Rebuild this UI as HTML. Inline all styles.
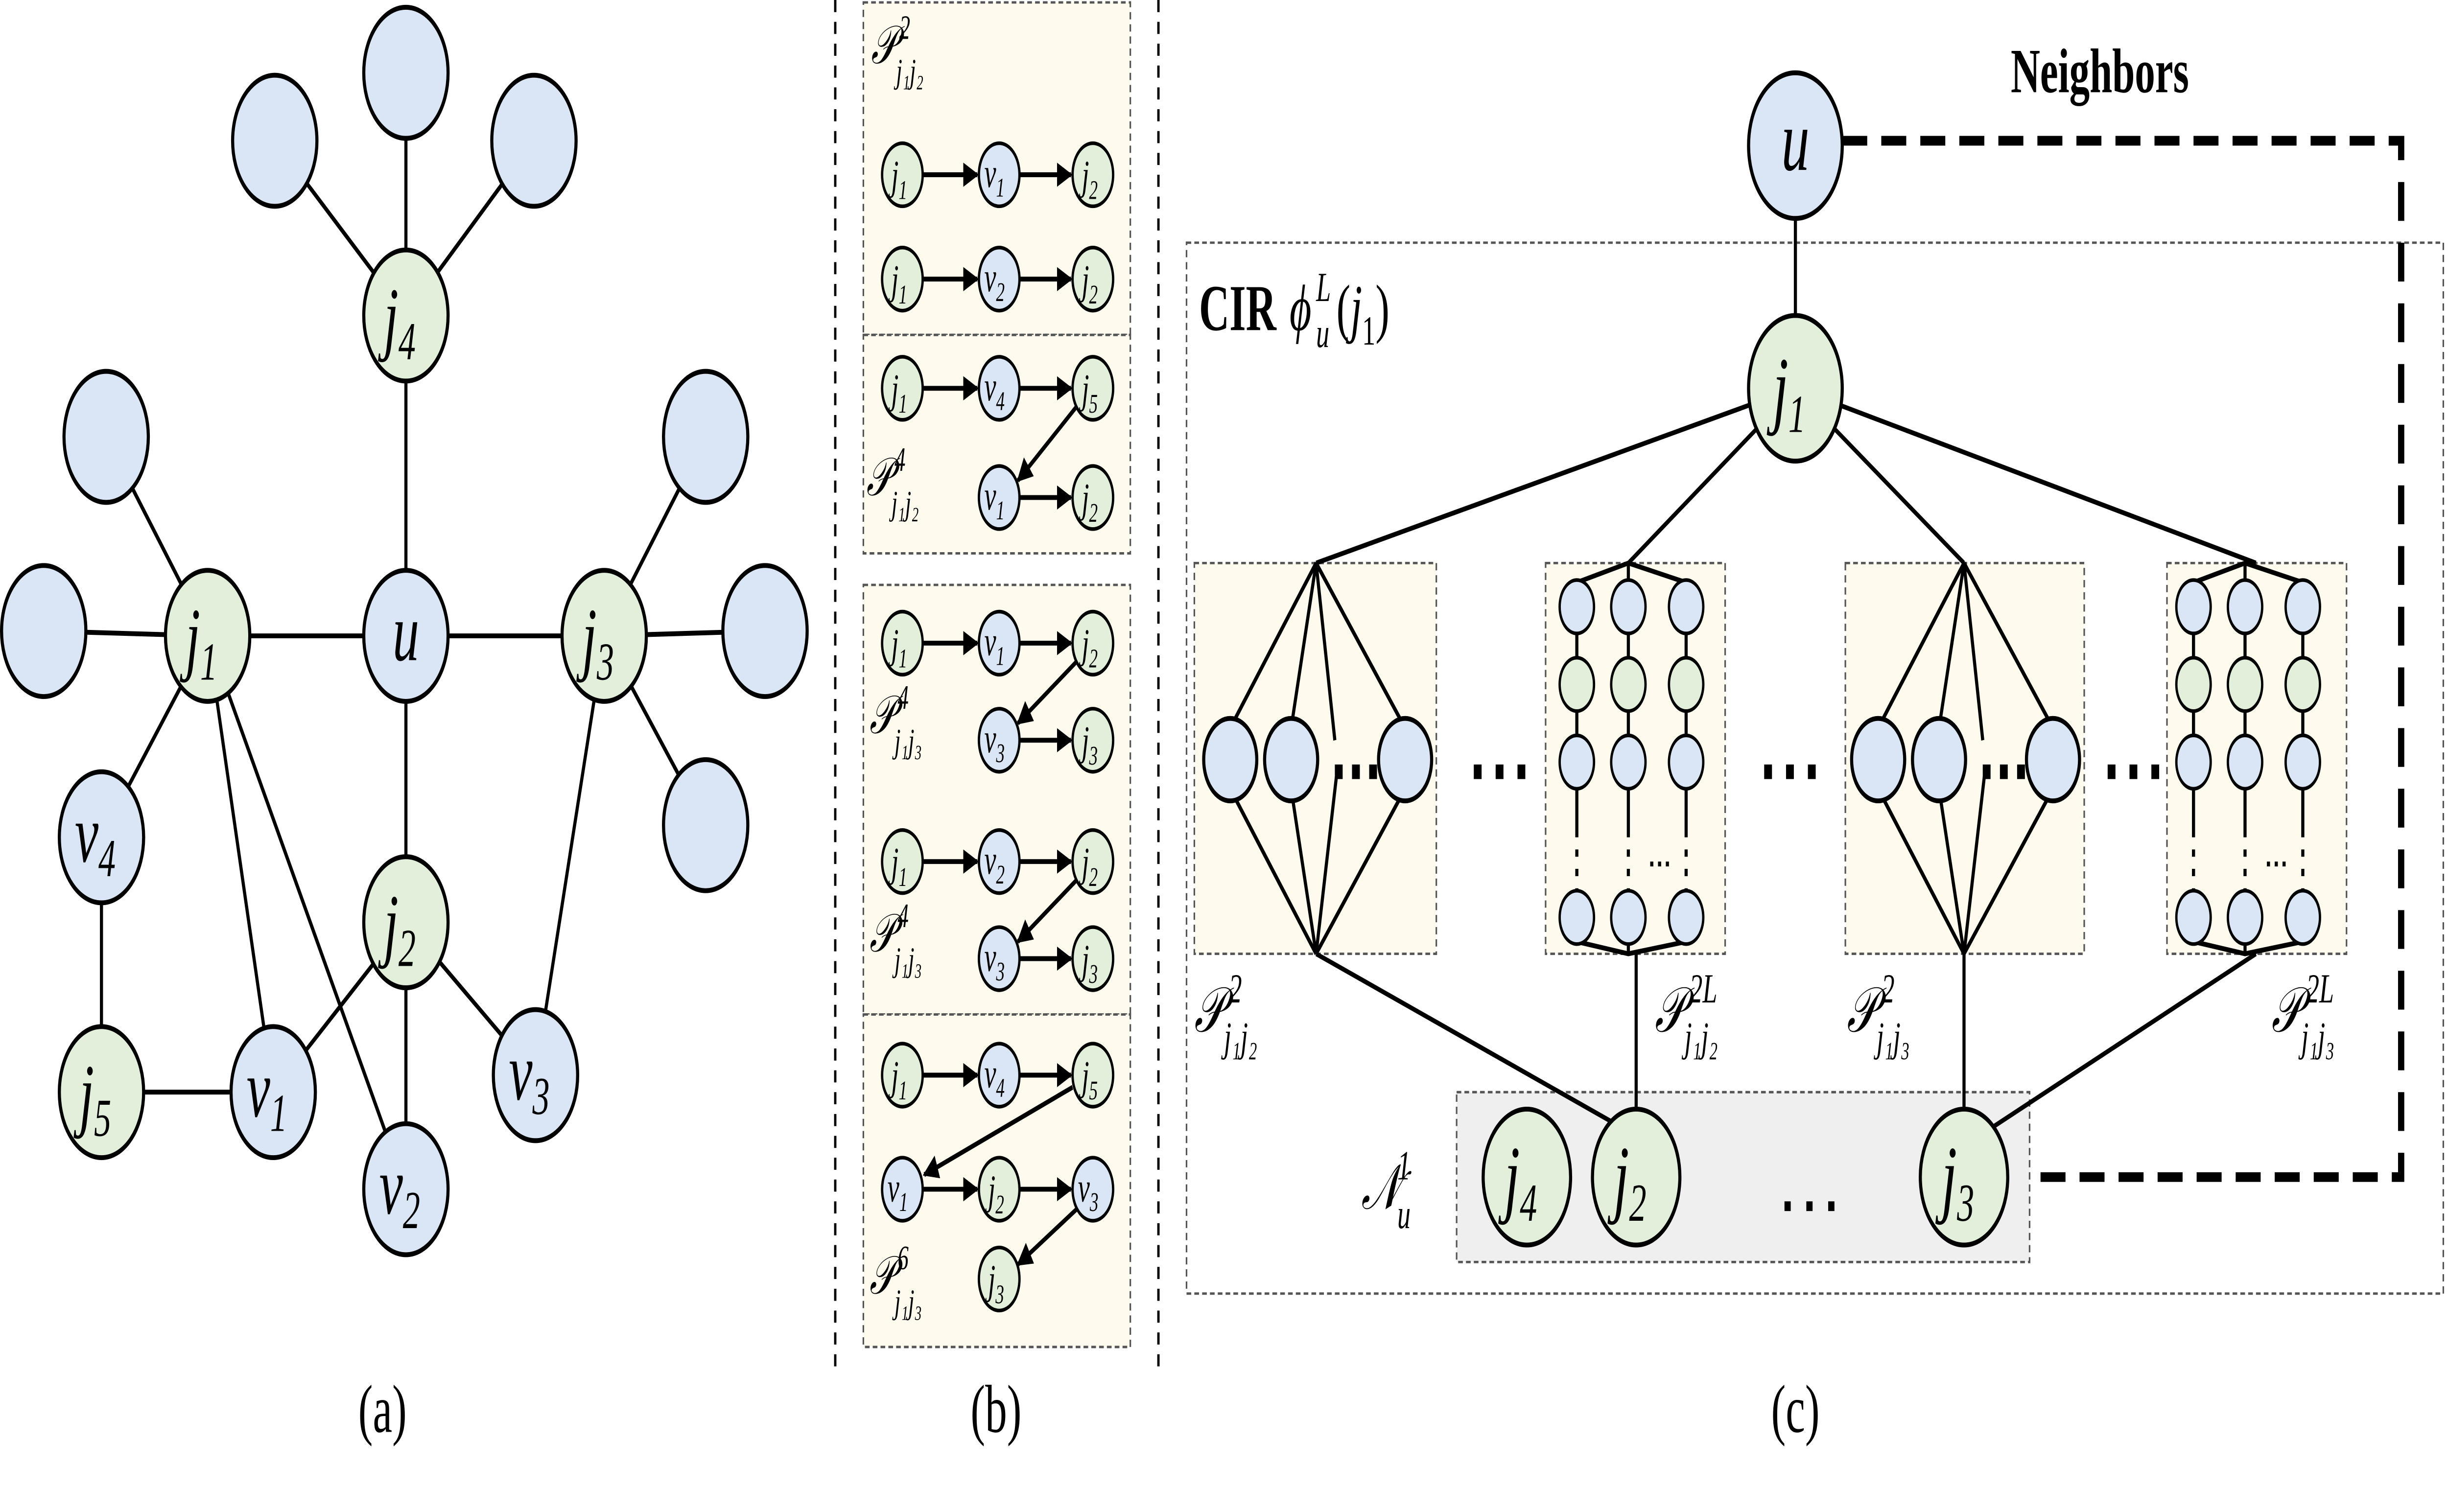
<!DOCTYPE html>
<html><head><meta charset="utf-8"><style>html,body{margin:0;padding:0;background:#fff;overflow:hidden;width:100%;height:100%}svg{display:block;width:100vw;height:100vh}</style></head>
<body>
<svg xmlns="http://www.w3.org/2000/svg" viewBox="0 0 1568 623" preserveAspectRatio="none" font-family="Liberation Serif, serif">
<defs>
<marker id="ar" viewBox="0 0 10 10" refX="9" refY="5" markerWidth="5" markerHeight="5" orient="auto"><path d="M0,0 L10,5 L0,10 z" fill="#000"/></marker>
</defs>
<rect width="1568" height="623" fill="#fff"/>
<!-- (a) -->
<g stroke="#000" stroke-width="2">
<line x1="176" y1="58" x2="260" y2="130"/><line x1="260" y1="30" x2="260" y2="130"/><line x1="342" y1="58" x2="260" y2="130"/>
<line x1="260" y1="130" x2="260" y2="262"/><line x1="68" y1="180" x2="133" y2="262"/><line x1="28" y1="260" x2="133" y2="262"/>
<line x1="133" y1="262" x2="260" y2="262"/><line x1="260" y1="262" x2="387" y2="262"/><line x1="260" y1="262" x2="260" y2="380"/>
<line x1="387" y1="262" x2="452" y2="180"/><line x1="387" y1="262" x2="490" y2="260"/><line x1="387" y1="262" x2="452" y2="340"/>
<line x1="387" y1="262" x2="343" y2="443"/><line x1="260" y1="380" x2="343" y2="443"/><line x1="260" y1="380" x2="260" y2="490"/>
<line x1="260" y1="380" x2="175" y2="450"/><line x1="133" y1="262" x2="65" y2="345"/><line x1="133" y1="262" x2="175" y2="450"/>
<line x1="133" y1="262" x2="260" y2="490"/><line x1="65" y1="345" x2="65" y2="450"/><line x1="65" y1="450" x2="175" y2="450"/>
</g>
<g stroke="#000" stroke-width="2" fill="#dae6f5">
<circle cx="176" cy="58" r="27"/><circle cx="260" cy="30" r="27"/><circle cx="342" cy="58" r="27"/>
<circle cx="68" cy="180" r="27"/><circle cx="28" cy="260" r="27"/><circle cx="260" cy="262" r="27"/>
<circle cx="452" cy="180" r="27"/><circle cx="490" cy="260" r="27"/><circle cx="452" cy="340" r="27"/>
<circle cx="65" cy="345" r="27"/><circle cx="175" cy="450" r="27"/><circle cx="260" cy="490" r="27"/><circle cx="343" cy="443" r="27"/>
</g>
<g stroke="#000" stroke-width="2" fill="#e2efda">
<circle cx="260" cy="130" r="27"/><circle cx="133" cy="262" r="27"/><circle cx="387" cy="262" r="27"/>
<circle cx="260" cy="380" r="27"/><circle cx="65" cy="450" r="27"/>
</g>
<g font-size="34" font-style="italic" text-anchor="middle">
<text x="256" y="142">j<tspan font-size="22" dy="6">4</tspan></text>
<text x="129" y="274">j<tspan font-size="22" dy="6">1</tspan></text>
<text x="260" y="272">u</text>
<text x="383" y="274">j<tspan font-size="22" dy="6">3</tspan></text>
<text x="256" y="392">j<tspan font-size="22" dy="6">2</tspan></text>
<text x="61" y="462">j<tspan font-size="22" dy="6">5</tspan></text>
<text x="61" y="355">v<tspan font-size="22" dy="6">4</tspan></text>
<text x="171" y="460">v<tspan font-size="22" dy="6">1</tspan></text>
<text x="256" y="500">v<tspan font-size="22" dy="6">2</tspan></text>
<text x="339" y="453">v<tspan font-size="22" dy="6">3</tspan></text>
</g>
<text x="245" y="590" font-size="28" text-anchor="middle">(a)</text>
<!-- (b) -->
<g stroke="#000" stroke-width="1.5" stroke-dasharray="5,4"><line x1="535" y1="0" x2="535" y2="565"/><line x1="742" y1="0" x2="742" y2="565"/></g>
<g fill="#fefaee" stroke="#555" stroke-width="1" stroke-dasharray="3,2">
<rect x="553" y="1" width="171" height="137"/><rect x="553" y="138" width="171" height="90"/>
<rect x="553" y="241" width="171" height="177"/><rect x="553" y="418" width="171" height="137"/>
</g>
<g stroke="#000" stroke-width="2" marker-end="url(#ar)">
<line x1="591" y1="72" x2="626" y2="72"/><line x1="653" y1="72" x2="686" y2="72"/>
<line x1="591" y1="115" x2="626" y2="115"/><line x1="653" y1="115" x2="686" y2="115"/>
<line x1="591" y1="160" x2="626" y2="160"/><line x1="653" y1="160" x2="686" y2="160"/>
<line x1="689" y1="168" x2="652" y2="198"/><line x1="653" y1="205" x2="686" y2="205"/>
<line x1="591" y1="265" x2="626" y2="265"/><line x1="653" y1="265" x2="686" y2="265"/>
<line x1="689" y1="273" x2="652" y2="298"/><line x1="653" y1="305" x2="686" y2="305"/>
<line x1="591" y1="355" x2="626" y2="355"/><line x1="653" y1="355" x2="686" y2="355"/>
<line x1="689" y1="363" x2="652" y2="388"/><line x1="653" y1="395" x2="686" y2="395"/>
<line x1="591" y1="443" x2="626" y2="443"/><line x1="653" y1="443" x2="686" y2="443"/>
<line x1="687" y1="448" x2="592" y2="484"/><line x1="591" y1="490" x2="626" y2="490"/><line x1="653" y1="490" x2="686" y2="490"/>
<line x1="690" y1="498" x2="652" y2="521"/>
</g>
<g stroke="#000" stroke-width="1.5">
<g fill="#e2efda"><circle cx="578" cy="72" r="13"/><circle cx="700" cy="72" r="13"/><circle cx="578" cy="115" r="13"/><circle cx="700" cy="115" r="13"/>
<circle cx="578" cy="160" r="13"/><circle cx="700" cy="160" r="13"/><circle cx="700" cy="205" r="13"/>
<circle cx="578" cy="265" r="13"/><circle cx="700" cy="265" r="13"/><circle cx="700" cy="305" r="13"/>
<circle cx="578" cy="355" r="13"/><circle cx="700" cy="355" r="13"/><circle cx="700" cy="395" r="13"/>
<circle cx="578" cy="443" r="13"/><circle cx="700" cy="443" r="13"/><circle cx="640" cy="490" r="13"/><circle cx="640" cy="527" r="13"/></g>
<g fill="#dae6f5"><circle cx="640" cy="72" r="13"/><circle cx="640" cy="115" r="13"/><circle cx="640" cy="160" r="13"/><circle cx="640" cy="205" r="13"/>
<circle cx="640" cy="265" r="13"/><circle cx="640" cy="305" r="13"/><circle cx="640" cy="355" r="13"/><circle cx="640" cy="395" r="13"/>
<circle cx="640" cy="443" r="13"/><circle cx="578" cy="490" r="13"/><circle cx="700" cy="490" r="13"/></g>
</g>
<g font-size="17" font-style="italic" text-anchor="middle">
<text x="576" y="78">j<tspan font-size="11" dy="4">1</tspan></text><text x="637" y="77">v<tspan font-size="11" dy="4">1</tspan></text><text x="698" y="78">j<tspan font-size="11" dy="4">2</tspan></text>
<text x="576" y="121">j<tspan font-size="11" dy="4">1</tspan></text><text x="637" y="120">v<tspan font-size="11" dy="4">2</tspan></text><text x="698" y="121">j<tspan font-size="11" dy="4">2</tspan></text>
<text x="576" y="166">j<tspan font-size="11" dy="4">1</tspan></text><text x="637" y="165">v<tspan font-size="11" dy="4">4</tspan></text><text x="698" y="166">j<tspan font-size="11" dy="4">5</tspan></text>
<text x="637" y="210">v<tspan font-size="11" dy="4">1</tspan></text><text x="698" y="211">j<tspan font-size="11" dy="4">2</tspan></text>
<text x="576" y="271">j<tspan font-size="11" dy="4">1</tspan></text><text x="637" y="270">v<tspan font-size="11" dy="4">1</tspan></text><text x="698" y="271">j<tspan font-size="11" dy="4">2</tspan></text>
<text x="637" y="310">v<tspan font-size="11" dy="4">3</tspan></text><text x="698" y="311">j<tspan font-size="11" dy="4">3</tspan></text>
<text x="576" y="361">j<tspan font-size="11" dy="4">1</tspan></text><text x="637" y="360">v<tspan font-size="11" dy="4">2</tspan></text><text x="698" y="361">j<tspan font-size="11" dy="4">2</tspan></text>
<text x="637" y="400">v<tspan font-size="11" dy="4">3</tspan></text><text x="698" y="401">j<tspan font-size="11" dy="4">3</tspan></text>
<text x="576" y="449">j<tspan font-size="11" dy="4">1</tspan></text><text x="637" y="448">v<tspan font-size="11" dy="4">4</tspan></text><text x="698" y="449">j<tspan font-size="11" dy="4">5</tspan></text>
<text x="575" y="495">v<tspan font-size="11" dy="4">1</tspan></text><text x="638" y="496">j<tspan font-size="11" dy="4">2</tspan></text><text x="697" y="495">v<tspan font-size="11" dy="4">3</tspan></text>
<text x="638" y="533">j<tspan font-size="11" dy="4">3</tspan></text>
</g>
<g font-style="italic">
<text x="558" y="26" font-size="22">𝒫</text><text x="576" y="16" font-size="14">2</text><text x="574" y="34" font-size="14">j₁j₂</text>
<text x="555" y="204" font-size="22">𝒫</text><text x="573" y="194" font-size="14">4</text><text x="571" y="212" font-size="14">j₁j₂</text>
<text x="557" y="302" font-size="22">𝒫</text><text x="575" y="292" font-size="14">4</text><text x="573" y="310" font-size="14">j₁j₃</text>
<text x="557" y="392" font-size="22">𝒫</text><text x="575" y="382" font-size="14">4</text><text x="573" y="400" font-size="14">j₁j₃</text>
<text x="557" y="533" font-size="22">𝒫</text><text x="575" y="523" font-size="14">6</text><text x="573" y="541" font-size="14">j₁j₃</text>
</g>
<text x="638" y="590" font-size="28" text-anchor="middle">(b)</text>
<!-- (c) -->
<rect x="760" y="100" width="805" height="433" fill="none" stroke="#555" stroke-width="1" stroke-dasharray="3,2"/>
<path d="M1180,58 H1538 V485 H1285" fill="none" stroke="#000" stroke-width="4" stroke-dasharray="16,9"/>
<text x="1345" y="38" font-size="26" font-weight="bold" text-anchor="middle">Neighbors</text>
<text x="768" y="136" font-size="27" font-weight="bold">CIR</text>
<text x="826" y="136" font-size="27" font-style="italic">ϕ</text>
<text x="843" y="124" font-size="17" font-style="italic">L</text>
<text x="843" y="143" font-size="17" font-style="italic">u</text>
<text x="856" y="136" font-size="27">(<tspan font-style="italic">j</tspan><tspan font-size="17" dy="6">1</tspan><tspan dy="-6">)</tspan></text>
<g fill="#fefaee" stroke="#555" stroke-width="1" stroke-dasharray="3,2">
<rect x="765" y="232" width="155" height="161"/><rect x="990" y="232" width="115" height="161"/>
<rect x="1182" y="232" width="153" height="161"/><rect x="1388" y="232" width="115" height="161"/>
</g>
<rect x="933" y="450" width="367" height="70" fill="#efefef" stroke="#555" stroke-width="1" stroke-dasharray="3,2"/>
<g stroke="#000" stroke-width="2" fill="none">
<line x1="1150" y1="60" x2="1150" y2="160"/>
<line x1="1150" y1="160" x2="843" y2="232"/><line x1="1150" y1="160" x2="1043" y2="232"/>
<line x1="1150" y1="160" x2="1258" y2="232"/><line x1="1150" y1="160" x2="1445" y2="232"/>
<line x1="843" y1="393" x2="1040" y2="465"/><line x1="1048" y1="393" x2="1048" y2="457"/>
<line x1="1258" y1="393" x2="1258" y2="457"/><line x1="1445" y1="393" x2="1275" y2="465"/>
</g>
<g id="fan">
<g stroke="#000" stroke-width="2">
<line x1="843" y1="232" x2="788" y2="300"/><line x1="843" y1="232" x2="827" y2="300"/><line x1="843" y1="232" x2="855" y2="305"/><line x1="843" y1="232" x2="900" y2="300"/>
<line x1="843" y1="393" x2="788" y2="325"/><line x1="843" y1="393" x2="827" y2="325"/><line x1="843" y1="393" x2="856" y2="320"/><line x1="843" y1="393" x2="900" y2="325"/>
</g>
<g stroke="#000" stroke-width="2" fill="#dae6f5"><circle cx="788" cy="313" r="17"/><circle cx="827" cy="313" r="17"/><circle cx="900" cy="313" r="17"/></g>
<g fill="#000"><rect x="855" y="315" width="5" height="6"/><rect x="866" y="315" width="5" height="6"/><rect x="877" y="315" width="5" height="6"/></g>
</g>
<use href="#fan" transform="translate(415,0)"/>
<g id="chain">
<g stroke="#000" stroke-width="2" fill="none">
<path d="M1010,240 L1043,232 L1080,240"/><line x1="1043" y1="232" x2="1043" y2="240"/>
<path d="M1010,388 L1043,393 L1080,388"/><line x1="1043" y1="393" x2="1043" y2="388"/>
<line x1="1010" y1="250" x2="1010" y2="345"/><line x1="1043" y1="250" x2="1043" y2="345"/><line x1="1080" y1="250" x2="1080" y2="345"/>
<line x1="1010" y1="366" x2="1010" y2="378"/><line x1="1043" y1="366" x2="1043" y2="378"/><line x1="1080" y1="366" x2="1080" y2="378"/>
</g>
<g stroke="#000" stroke-width="1.5">
<g fill="#dae6f5"><circle cx="1010" cy="250" r="11"/><circle cx="1043" cy="250" r="11"/><circle cx="1080" cy="250" r="11"/>
<circle cx="1010" cy="314" r="11"/><circle cx="1043" cy="314" r="11"/><circle cx="1080" cy="314" r="11"/>
<circle cx="1010" cy="378" r="11"/><circle cx="1043" cy="378" r="11"/><circle cx="1080" cy="378" r="11"/></g>
<g fill="#e2efda"><circle cx="1010" cy="282" r="11"/><circle cx="1043" cy="282" r="11"/><circle cx="1080" cy="282" r="11"/></g>
</g>
<g fill="#000"><rect x="1009" y="350" width="2" height="3"/><rect x="1009" y="358" width="2" height="3"/><rect x="1042" y="350" width="2" height="3"/><rect x="1042" y="358" width="2" height="3"/><rect x="1079" y="350" width="2" height="3"/><rect x="1079" y="358" width="2" height="3"/>
<rect x="1057" y="355" width="2" height="2"/><rect x="1062" y="355" width="2" height="2"/><rect x="1067" y="355" width="2" height="2"/></g>
</g>
<use href="#chain" transform="translate(395,0)"/>
<g fill="#000">
<rect x="944" y="315" width="5" height="6"/><rect x="958" y="315" width="5" height="6"/><rect x="972" y="315" width="5" height="6"/>
<rect x="1130" y="315" width="5" height="6"/><rect x="1144" y="315" width="5" height="6"/><rect x="1158" y="315" width="5" height="6"/>
<rect x="1350" y="315" width="5" height="6"/><rect x="1364" y="315" width="5" height="6"/><rect x="1378" y="315" width="5" height="6"/>
<rect x="1143" y="495" width="4" height="4"/><rect x="1157" y="495" width="4" height="4"/><rect x="1171" y="495" width="4" height="4"/>
</g>
<g stroke="#000" stroke-width="2">
<circle cx="1150" cy="60" r="30" fill="#dae6f5"/><circle cx="1150" cy="160" r="30" fill="#e2efda"/>
<circle cx="978" cy="485" r="28" fill="#e2efda"/><circle cx="1048" cy="485" r="28" fill="#e2efda"/><circle cx="1258" cy="485" r="28" fill="#e2efda"/>
</g>
<g font-size="36" font-style="italic" text-anchor="middle">
<text x="1150" y="70">u</text>
<text x="1146" y="172">j<tspan font-size="22" dy="6">1</tspan></text>
<text x="974" y="497">j<tspan font-size="22" dy="6">4</tspan></text>
<text x="1044" y="497">j<tspan font-size="22" dy="6">2</tspan></text>
<text x="1254" y="497">j<tspan font-size="22" dy="6">3</tspan></text>
</g>
<g font-style="italic">
<text x="872" y="498" font-size="26">𝒩</text><text x="895" y="486" font-size="17">1</text><text x="895" y="506" font-size="17">u</text>
<text x="765" y="425" font-size="26">𝒫</text><text x="787" y="413" font-size="17">2</text><text x="784" y="433" font-size="17">j₁j₂</text>
<text x="1060" y="425" font-size="26">𝒫</text><text x="1082" y="413" font-size="17">2L</text><text x="1079" y="433" font-size="17">j₁j₂</text>
<text x="1183" y="425" font-size="26">𝒫</text><text x="1205" y="413" font-size="17">2</text><text x="1202" y="433" font-size="17">j₁j₃</text>
<text x="1455" y="425" font-size="26">𝒫</text><text x="1477" y="413" font-size="17">2L</text><text x="1474" y="433" font-size="17">j₁j₃</text>
</g>
<text x="1150" y="590" font-size="28" text-anchor="middle">(c)</text>
</svg>
</body></html>
